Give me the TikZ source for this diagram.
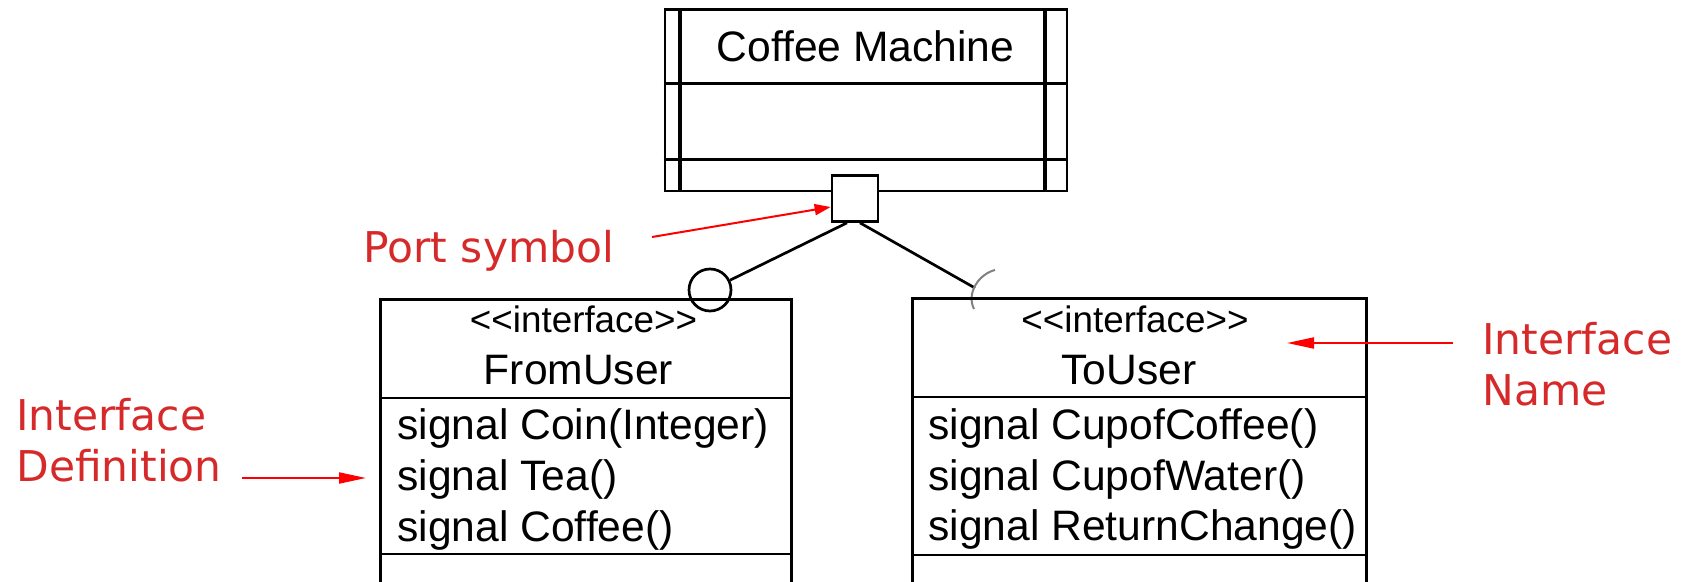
\documentclass[tikz,border=0pt]{standalone}
\usepackage{fontspec}
\setmainfont{Liberation Sans}
\newfontfamily\notefont{DejaVu Sans}
\usetikzlibrary{arrows.meta}
\definecolor{notered}{RGB}{214,42,42}
\tikzset{
  umlbox/.style={draw=black, line width=1.35pt, inner sep=0pt},
  umlline/.style={line width=1.35pt},
  umltext/.style={font=\fontsize{21.3}{25}\selectfont, inner sep=0pt},
  stereo/.style={font=\fontsize{18.4}{22}\selectfont, inner sep=0pt},
  note/.style={text=notered, font=\notefont\fontsize{21.2}{25.5}\selectfont, align=left, inner sep=0pt},
  notearrow/.style={red, line width=1pt, -{Triangle[length=#1,width=5.5pt]}},
  notearrow/.default=13.5pt
}
\begin{document}
\begin{tikzpicture}[x=0.5pt,y=-0.5pt]
\useasboundingbox (0,0) rectangle (1682,582);
\clip (0,0) rectangle (1682,582);
% coffee machine
\node [umlbox, minimum width=201pt, minimum height=90.75pt] (machine) at (866,100.25) {};
\draw [line width=1.9pt] ([xshift=8pt]machine.north west) -- ([xshift=8pt]machine.south west);
\draw [line width=1.9pt] ([xshift=-11.5pt]machine.north east) -- ([xshift=-11.5pt]machine.south east);
\draw [umlline] ([yshift=-37.75pt]machine.north west) -- ([yshift=-37.75pt]machine.north east);
\draw [umlline] ([yshift=-75.75pt]machine.north west) -- ([yshift=-75.75pt]machine.north east);
\node [umltext, anchor=base] (machinename) at (865.5,62) {Coffee Machine};
% port and interfaces
\node [umlbox, fill=white, minimum size=23pt] (port) at (855,198.5) {};
\node [umlbox, circle, minimum size=21pt] (provided) at (710,290) {};
\coordinate (required) at (975,288);
\draw [umlline] ([xshift=-4pt]port.south) -- (provided);
\draw [umlline] ([xshift=2.5pt]port.south) -- (required);
\draw [gray, line width=1pt] (995,270) .. controls (979,274) and (966,293) .. (974,309);
% FromUser
\node [umlbox, anchor=north west, minimum width=205.5pt, minimum height=151pt] (fromuser) at (379,298) {};
\draw [umlline] ([yshift=-50pt]fromuser.north west) -- ([yshift=-50pt]fromuser.north east);
\draw [umlline] ([yshift=-128pt]fromuser.north west) -- ([yshift=-128pt]fromuser.north east);
\node [stereo, anchor=base] (fromstereo) at (583.5,333) {<{}<interface>{}>};
\node [umltext, anchor=base] (fromname) at (578.5,385) {FromUser};
\node [umltext, anchor=base west] (fromsig1) at (397,440) {signal Coin(Integer)};
\node [umltext, anchor=base west] (fromsig2) at (397,491) {signal Tea()};
\node [umltext, anchor=base west] (fromsig3) at (397,542) {signal Coffee()};
% ToUser
\node [umlbox, anchor=north west, minimum width=227pt, minimum height=151.5pt] (touser) at (911,297) {};
\draw [umlline] ([yshift=-50pt]touser.north west) -- ([yshift=-50pt]touser.north east);
\draw [umlline] ([yshift=-129pt]touser.north west) -- ([yshift=-129pt]touser.north east);
\node [stereo, anchor=base] (tostereo) at (1135,333) {<{}<interface>{}>};
\node [umltext, anchor=base] (toname) at (1129,385) {ToUser};
\node [umltext, anchor=base west] (tosig1) at (928,440) {signal CupofCoffee()};
\node [umltext, anchor=base west] (tosig2) at (928,491) {signal CupofWater()};
\node [umltext, anchor=base west] (tosig3) at (928,541) {signal ReturnChange()};
% notes
\node [note, anchor=base west] (portnote) at (363,263) {Port symbol};
\coordinate (porttail) at (652,237);
\draw [notearrow=8pt] (porttail) -- ([yshift=-4.25pt]port.west);
\node [note, anchor=base west] (defnote) at (16,482) {Interface\\Definition};
\coordinate (deftail) at (242,478);
\draw [notearrow, shorten >=6.5pt] (deftail) -- (deftail -| fromuser.west);
\node [note, anchor=base west] (namenote) at (1482,406) {Interface\\Name};
\coordinate (nametail) at (1453,343);
\coordinate (nametip) at (1287,343);
\draw [notearrow] (nametail) -- (nametip);
\end{tikzpicture}
\end{document}
